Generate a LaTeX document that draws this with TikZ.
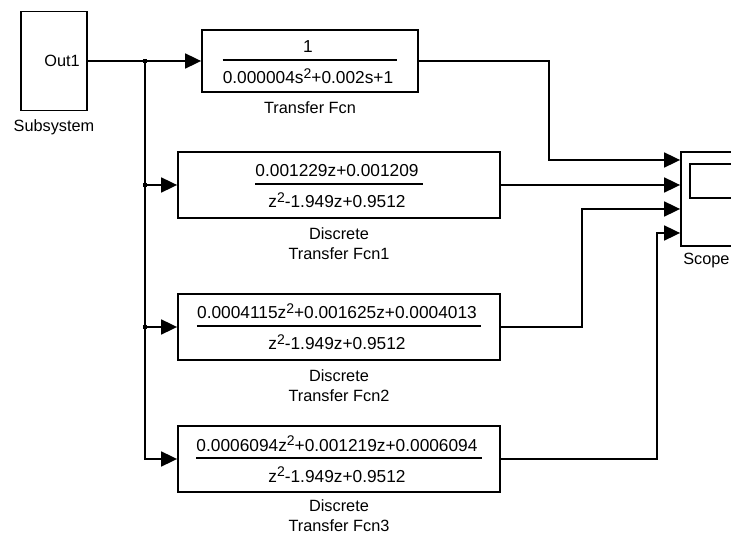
\documentclass[tikz,border=0pt]{standalone}
\usepackage{fontspec}
\setmainfont{Liberation Sans}
\usetikzlibrary{arrows.meta,calc}
\newcommand\sqr{\raisebox{5.5pt}{\fontsize{14}{14}\selectfont 2}}
% fraction inside a block: numerator, bar, denominator
\newcommand\frc[4]{%
  \node[ftxt,anchor=base] (#1n) at ($(#2.center)+(-2,-8)$) {#3};
  \node[ftxt,anchor=base] (#1d) at ($(#2.center)+(-2,23)$) {#4};
  \draw[line width=1.5pt] let \p1=(#1n.west),\p2=(#1d.west),\p3=(#1n.east),\p4=(#1d.east),
    \p5=($(#2.center)+(0,-1)$) in ({min(\x1,\x2)},\y5) -- ({max(\x3,\x4)+4pt},\y5);
}
\begin{document}
\begin{tikzpicture}[x=1pt,y=-1pt]
\tikzset{
  wire/.style={line width=1.8pt},
  feed/.style={wire,-{Triangle[length=16pt,width=15pt]}},
  blk/.style={draw,line width=1.8pt,inner sep=0pt,rectangle},
  txt/.style={font=\fontsize{16.3}{20}\selectfont,inner sep=0pt},
  ftxt/.style={font=\fontsize{17.3}{20}\selectfont,inner sep=0pt},
  blabel/.style={txt,align=center,anchor=north},
  jdot/.style={fill,minimum size=4.5pt,inner sep=0pt,rectangle}
}
\useasboundingbox (0,0) rectangle (731,534);
\path[clip] (0,0) rectangle (731,534);

% blocks
\node[blk,minimum width=66pt,minimum height=99pt] (sub) at (54,61) {};
\node[txt,anchor=east] (out) at ([xshift=-8pt]sub.east) {Out1};
\node[blabel] (subl) at ([yshift=-8.5pt]sub.south) {Subsystem};

\node[blk,minimum width=216pt,minimum height=62pt] (tf) at (310,61) {};
\node[blabel] (tfl) at ([yshift=-8.5pt]tf.south) {Transfer Fcn};
\frc{tf}{tf}{1}{0.000004s\sqr+0.002s+1}

\node[blk,minimum width=322pt,minimum height=66pt] (d1) at (339,185) {};
\node[blabel] (d1l) at ([yshift=-8.5pt]d1.south) {Discrete\\Transfer Fcn1};
\frc{d1}{d1}{0.001229z+0.001209}{z\sqr-1.949z+0.9512}

\node[blk,minimum width=322pt,minimum height=66pt] (d2) at (339,327) {};
\node[blabel] (d2l) at ([yshift=-8.5pt]d2.south) {Discrete\\Transfer Fcn2};
\frc{d2}{d2}{0.0004115z\sqr+0.001625z+0.0004013}{z\sqr-1.949z+0.9512}

\node[blk,minimum width=322pt,minimum height=66pt] (d3) at (339,459) {};
\node[blabel] (d3l) at ([yshift=-7pt]d3.south) {Discrete\\Transfer Fcn3};
\frc{d3}{d3}{0.0006094z\sqr+0.001219z+0.0006094}{z\sqr-1.949z+0.9512}

\node[blk,minimum width=64pt,minimum height=94pt] (scope) at (713,199) {};
\node[blk,minimum width=50pt,minimum height=34pt] (screen) at (715,181) {};
\node[txt,anchor=north west] (scopel) at ([xshift=3pt,yshift=-6pt]scope.south west) {Scope};
\coordinate (in1) at ([yshift=39pt]scope.west);
\coordinate (in3) at ([yshift=-10pt]scope.west);
\coordinate (in4) at ([yshift=-34pt]scope.west);

% signal lines
\coordinate (br) at (145,61);
\draw[feed] (sub.east) -- (tf.west);
\draw[feed] (br) |- (d3.west);
\draw[feed] (br |- d1.west) -- (d1.west);
\draw[feed] (br |- d2.west) -- (d2.west);
\node[jdot] at (br) {};
\node[jdot] at (br |- d1.west) {};
\node[jdot] at (br |- d2.west) {};

\draw[feed] (tf.east) -- ++(130,0) |- (in1);
\draw[feed] (d1.east) -- (d1.east -| scope.west);
\draw[feed] (d2.east) -- ++(81,0) |- (in3);
\draw[feed] (d3.east) -- ++(156,0) |- (in4);
\end{tikzpicture}
\end{document}
